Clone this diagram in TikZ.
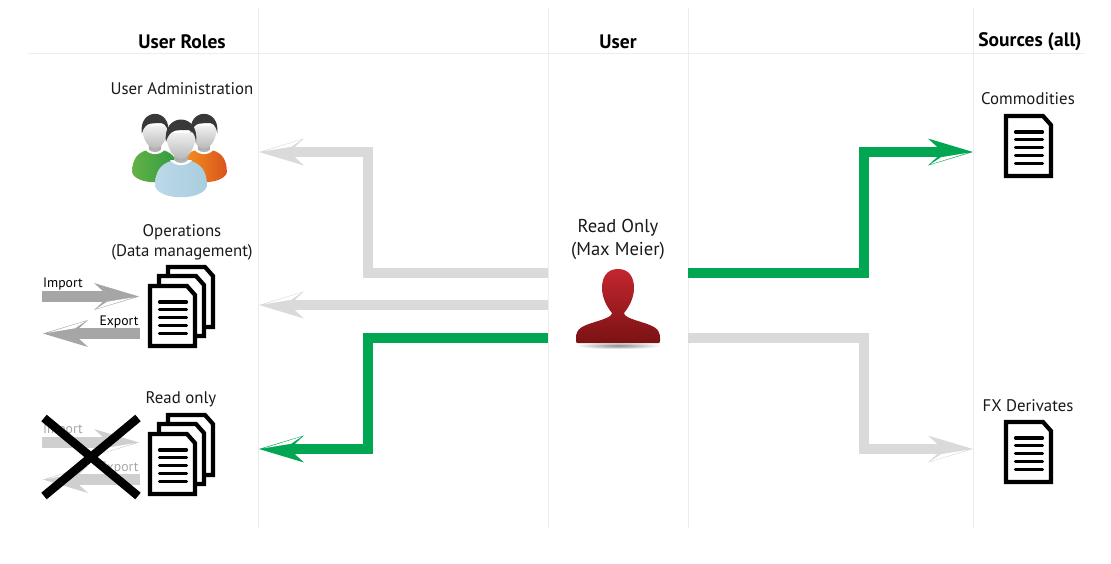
\documentclass[tikz,border=0pt]{standalone}
\usepackage{fontspec}
\setmainfont{PT Sans}
\usetikzlibrary{arrows.meta}

\definecolor{lanegrey}{HTML}{EDEDED}
\definecolor{offgrey}{HTML}{DADADA}
\definecolor{ongreen}{HTML}{00A651}
\definecolor{flowgrey}{HTML}{A6A6A6}
\definecolor{deadgrey}{HTML}{CFCFCF}
\definecolor{shirtgreen}{HTML}{63B246}
\definecolor{shirtgreenb}{HTML}{2F9A3E}
\definecolor{shirtorange}{HTML}{F7941D}
\definecolor{shirtorangeb}{HTML}{D9541E}
\definecolor{shirtblue}{HTML}{BBD9E8}
\definecolor{shirtblueb}{HTML}{A9CDDF}
\definecolor{usertop}{HTML}{C4262E}
\definecolor{userbot}{HTML}{7A1214}

% barbed head with a white sliver on one side
\newcommand{\declarebarb}[1]{%
\pgfdeclarearrow{
  name=Barb#1,
  setup code={
    \pgfarrowssettipend{0pt}
    \pgfarrowssetlineend{-36pt}
    \pgfarrowssetvisualbackend{-45pt}
    \pgfarrowssetbackend{-45pt}
  },
  drawing code={
    \pgfsetfillcolor{#1}
    \pgfpathmoveto{\pgfqpoint{0pt}{0pt}}
    \pgfpathlineto{\pgfqpoint{-45pt}{13.5pt}}
    \pgfpathlineto{\pgfqpoint{-36pt}{5.25pt}}
    \pgfpathlineto{\pgfqpoint{-36pt}{-5.25pt}}
    \pgfpathlineto{\pgfqpoint{-45pt}{-13.5pt}}
    \pgfpathclose
    \pgfusepathqfill
    \pgfsetfillcolor{white}
    \pgfpathmoveto{\pgfqpoint{-5pt}{-0.8pt}}
    \pgfpathlineto{\pgfqpoint{-42.5pt}{-12.3pt}}
    \pgfpathlineto{\pgfqpoint{-32pt}{-5.25pt}}
    \pgfpathclose
    \pgfusepathqfill
  },
  defaults={}
}}
\declarebarb{offgrey}
\declarebarb{ongreen}
\declarebarb{flowgrey}
\declarebarb{deadgrey}

\tikzset{
  lane/.style={draw=lanegrey,line width=0.8pt},
  route/.style={line width=10.5pt,draw=#1,-{Barb#1[]}},
  head/.style={font=\fontsize{19.5}{22}\selectfont\bfseries},
  role/.style={font=\fontsize{16.8}{19.5}\selectfont,align=center,text=black!90},
  small/.style={font=\fontsize{13.7}{15}\selectfont,inner sep=0pt},
  pics/docpage/.style={code={
    \draw[black,fill=white,line width=4.2pt,line join=miter]
      (0,0) -- (37,0) -- (45,9) -- (45,60) -- (0,60) -- cycle;
    \foreach \yy in {16,23.5,31.5,39.5,47.5}
      \draw[black,line width=3.2pt,line cap=round] (9.5,\yy) -- (36.5,\yy);
  }},
  pics/docstack/.style={code={
    \draw[black,fill=white,line width=4.2pt] (18,-19) -- (55,-19) -- (63,-10) -- (63,41) -- (18,41) -- cycle;
    \draw[black,fill=white,line width=4.2pt] (9,-10) -- (46,-10) -- (54,-1) -- (54,50) -- (9,50) -- cycle;
    \pic at (0,0) {docpage};
  }},
  pics/member/.style 2 args={code={
    \path[left color=#1,right color=#2]
      (-10,22) .. controls (-20,25) and (-26,32) .. (-26,47)
      .. controls (-22,62) and (22,62) .. (26,47)
      .. controls (26,32) and (20,25) .. (10,22) -- cycle;
    \fill[white] (-11,21) .. controls (-6,28) and (6,28) .. (11,21) -- cycle;
    \path[top color=gray!75,bottom color=gray!55] (-7,10) -- (7,10) -- (7,21)
      .. controls (4,25) and (-4,25) .. (-7,21) -- cycle;
    \path[top color=gray!12,bottom color=gray!55]
      (-14.5,-6) .. controls (-15,8) and (-8,20) .. (0,20)
      .. controls (8,20) and (15,8) .. (14.5,-6) -- cycle;
    \fill[black!78] (-15,3) .. controls (-19,-27) and (19,-27) .. (15,3)
      .. controls (14,-7) and (9,-10) .. (4,-9)
      .. controls (-1,-8) and (-11,-12) .. (-15,3) -- cycle;
  }},
}

\begin{document}
\begin{tikzpicture}[x=1pt,y=-1pt]
  \useasboundingbox (0,0) rectangle (1111,563);

  % lanes
  \draw[lane] (28,53) -- (1085,53);
  \foreach \xx in {258,548,688,973}
    \draw[lane] (\xx,8) -- (\xx,528);

  % headers
  \node[head] (hd_roles)   at (182,42)  {User Roles};
  \node[head] (hd_user)    at (618,42)  {User};
  \node[head] (hd_sources) at (1030,42) {Sources (all)};

  % ends of the routes
  \coordinate (u_a)   at (548,273);
  \coordinate (u_b)   at (548,305);
  \coordinate (u_c)   at (548,338);
  \coordinate (u_d)   at (688,273);
  \coordinate (u_e)   at (688,338);
  \coordinate (t_a)   at (368,152);
  \coordinate (t_c)   at (368,449);
  \coordinate (t_d)   at (864,152);
  \coordinate (t_e)   at (864,449);
  \coordinate (r_adm) at (259,152);
  \coordinate (r_ops) at (259,305);
  \coordinate (r_ro)  at (259,449);
  \coordinate (s_com) at (973,152);
  \coordinate (s_fx)  at (973,449);

  \draw[route=offgrey]  (u_a) -| (t_a) -- (r_adm);
  \draw[route=offgrey]  (u_b) -- (r_ops);
  \draw[route=ongreen]  (u_c) -| (t_c) -- (r_ro);
  \draw[route=ongreen]  (u_d) -| (t_d) -- (s_com);
  \draw[route=offgrey]  (u_e) -| (t_e) -- (s_fx);

  % user administration
  \node[role] (adm) at (182,89) {User Administration};
  \pic[scale=.88] at (155,131) {member={shirtgreen}{shirtgreenb}};
  \pic[scale=.88] at (204,131) {member={shirtorange}{shirtorangeb}};
  \pic at (181,139) {member={shirtblue}{shirtblueb}};

  % operations
  \node[role] (ops) at (182,242.5) {Operations\\(Data management)};
  \pic at (150,286) {docstack};
  \coordinate (imp_a) at (42,296.5);
  \coordinate (imp_b) at (139,296.5);
  \coordinate (exp_a) at (140,333.5);
  \coordinate (exp_b) at (43,333.5);
  \draw[route=flowgrey] (imp_a) -- (imp_b);
  \draw[route=flowgrey] (exp_a) -- (exp_b);
  \node[small] (imp) at (63,284) {Import};
  \node[small] (exp) at (119,322) {Export};

  % read only
  \node[role] (ro) at (181,399) {Read only};
  \coordinate (imq_a) at (42,442.5);
  \coordinate (imq_b) at (139,442.5);
  \coordinate (exq_a) at (140,479.5);
  \coordinate (exq_b) at (43,479.5);
  \draw[route=deadgrey] (imq_a) -- (imq_b);
  \draw[route=deadgrey] (exq_a) -- (exq_b);
  \node[small,text=black!35] (imq) at (63,430) {Import};
  \node[small,text=black!35] (exq) at (119,468) {Export};
  \pic at (150,434) {docstack};
  \draw[black,line width=8.5pt] (44,418) -- (138,496);
  \draw[black,line width=8.5pt] (138,418) -- (44,496);

  % user
  \node[role,font=\fontsize{18.6}{22.5}\selectfont] (max) at (618,239.5) {Read Only\\(Max Meier)};
  \shade[inner color=black!45,outer color=white] (575,342) rectangle (661,349);
  \path[top color=usertop,bottom color=userbot]
    (618,269) .. controls (607,269) and (602,277) .. (602,288)
    .. controls (602,298) and (607,307) .. (612,313)
    .. controls (612,319) and (590,322) .. (582,327)
    .. controls (577,330) and (576,334) .. (576,338)
    -- (576,341) .. controls (576,343) and (577,343) .. (578,343)
    -- (658,343) .. controls (659,343) and (660,343) .. (660,341)
    -- (660,338) .. controls (660,334) and (659,330) .. (654,327)
    .. controls (646,322) and (624,319) .. (624,313)
    .. controls (629,307) and (634,298) .. (634,288)
    .. controls (634,277) and (629,269) .. (618,269) -- cycle;

  % sources
  \node[role] (com) at (1028,99)  {Commodities};
  \pic at (1006,116) {docpage};
  \node[role] (fx)  at (1028,406) {FX Derivates};
  \pic at (1006,422) {docpage};
\end{tikzpicture}
\end{document}
